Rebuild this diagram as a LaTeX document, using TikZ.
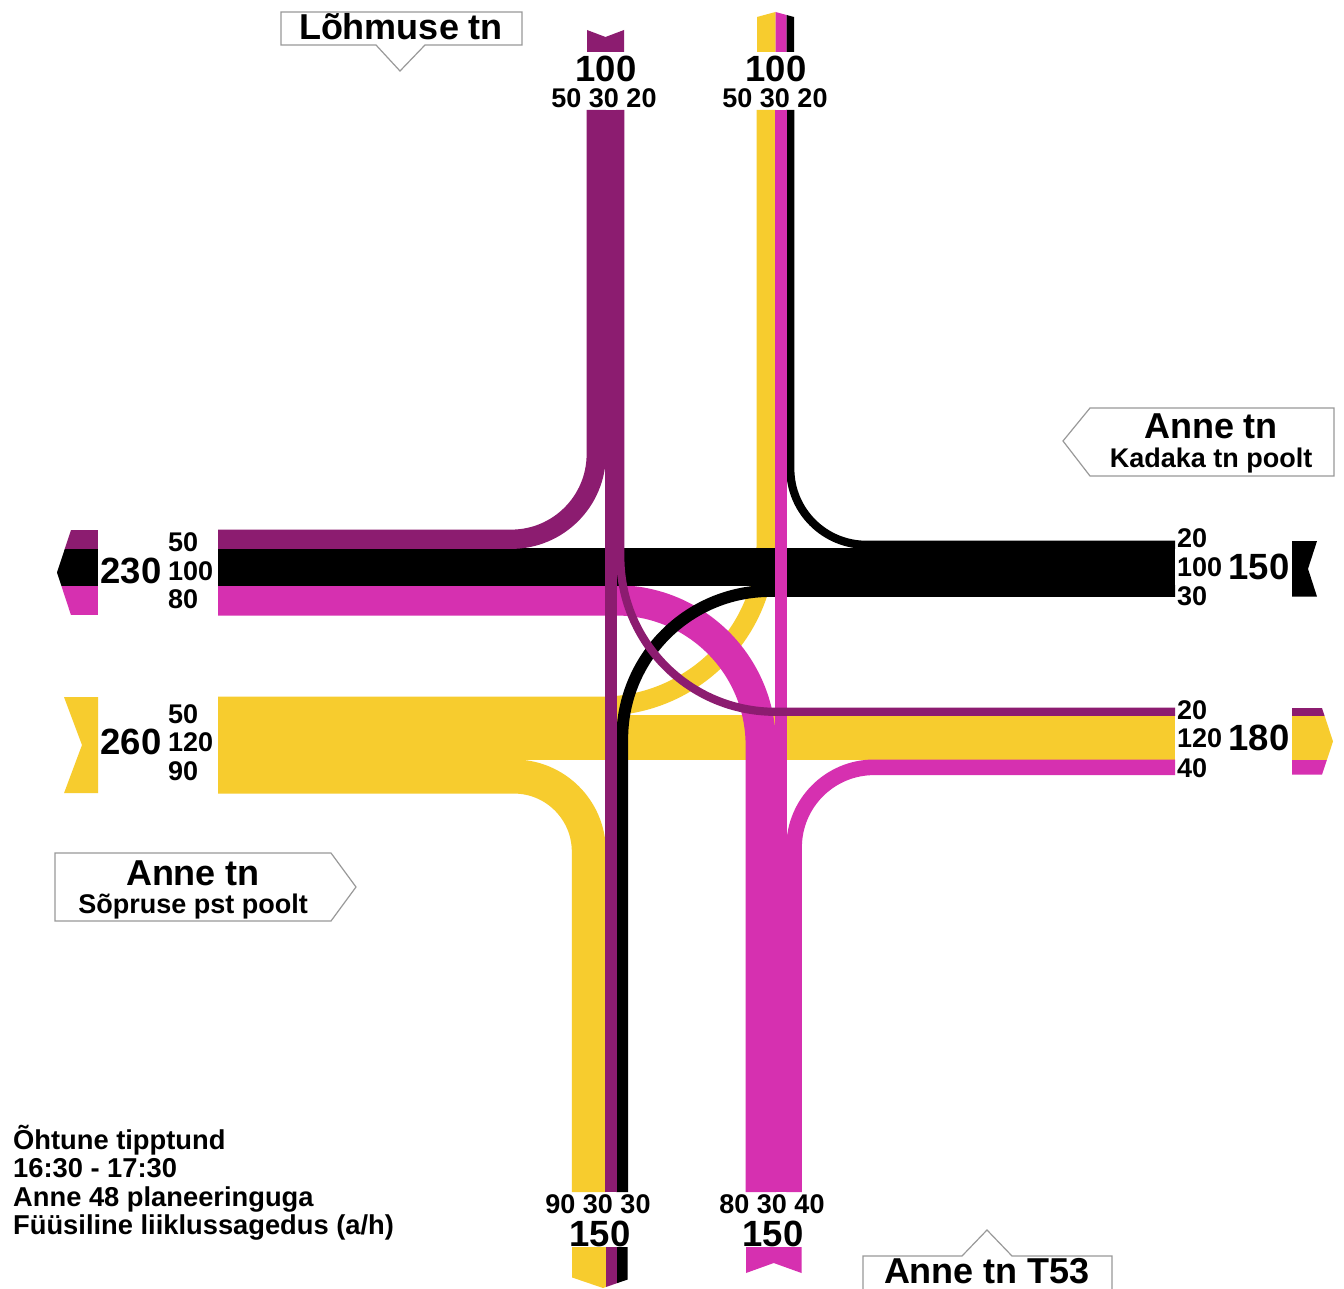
\documentclass[tikz,border=0pt]{standalone}
\usepackage{fontspec}
\setmainfont{Liberation Sans}
\definecolor{lilla}{RGB}{140,28,112}
\definecolor{roosa}{RGB}{214,48,176}
\definecolor{kollane}{RGB}{247,204,46}

\begin{document}
\begin{tikzpicture}[x=1pt, y=-1pt,
    flow/.style={line width=#1*0.37pt+0.8pt},
    big/.style={font=\fontsize{36.5}{36.5}\selectfont\bfseries, inner sep=0},
    small/.style={font=\fontsize{27}{27}\selectfont\bfseries, inner sep=0},
    title/.style={font=\fontsize{36}{36}\selectfont\bfseries, inner sep=0, anchor=base},
    sub/.style={font=\fontsize{27}{27}\selectfont\bfseries, inner sep=0, anchor=base},
    note/.style={font=\fontsize{27.3}{27.3}\selectfont\bfseries, inner sep=0, anchor=base west},
    callout/.style={fill=white, draw=gray!80, line width=1.2pt}]
    \fill[white] (0,0) rectangle (1344,1289);
    \useasboundingbox (0,0) rectangle (1344,1289);
    % Flows, turning movements first:
    \draw[kollane, flow=50, rounded corners=165] (218,706.25) -| (766.25,110);
    \draw[kollane, flow=90, rounded corners=75] (218,776.5) -| (588.85,1192);
    \draw[kollane, flow=120] (218,737.7) -- (1175,737.7);
    \draw[roosa, flow=80, rounded corners=145] (760.8,1192) |- (218,600.3);
    \draw[black, flow=30, rounded corners=148] (1175,591) -| (622.2,1192);
    \draw[black, flow=100] (1175,567) -- (218,567);
    \draw[black, flow=20, rounded corners=76] (1175,544.8) -| (790.3,110);
    \draw[lilla, flow=50, rounded corners=85] (596.25,110) |- (218,539.25);
    \draw[roosa, flow=30] (781.15,1192) -- (781.15,110);
    \draw[roosa, flow=40, rounded corners=80] (794.1,1192) |- (1175,767.3);
    \draw[lilla, flow=30] (611.05,110) -- (611.05,1192);
    \draw[lilla, flow=20, rounded corners=155] (620.3,110) |- (1175,711.8);
    % Arrow ends:
    \fill[lilla] (587,30) -- (605.5,37) -- (624,30) -- (624,52) -- (587,52) -- cycle;
    \fill[kollane] (757,52) -- (757,17) -- (775.5,12) -- (775.5,52) -- cycle;
    \fill[roosa] (775.5,52) -- (775.5,12) -- (786.6,15) -- (786.6,52) -- cycle;
    \fill[black] (786.6,52) -- (786.6,15) -- (794,17) -- (794,52) -- cycle;
    \begin{scope}
        \clip (98,530) -- (71,530) -- (57,572.5) -- (71,615.1) -- (98,615.1) -- cycle;
        \fill[lilla] (50,530) rectangle (98,548.5);
        \fill[black] (50,548.5) rectangle (98,585.5);
        \fill[roosa] (50,585.5) rectangle (98,615.1);
    \end{scope}
    \fill[kollane] (64,697) -- (98,697) -- (98,793.2) -- (64,793.2) -- (82,745) -- cycle;
    \fill[black] (1292,541.1) -- (1317,541.1) -- (1308,568.8) -- (1317,596.6) -- (1292,596.6) -- cycle;
    \begin{scope}
        \clip (1292,708.1) -- (1322,708.1) -- (1333,741.4) -- (1322,774.7) -- (1292,774.7) -- cycle;
        \fill[lilla] (1290,708.1) rectangle (1340,715.5);
        \fill[kollane] (1290,715.5) rectangle (1340,759.9);
        \fill[roosa] (1290,759.9) rectangle (1340,774.7);
    \end{scope}
    \begin{scope}
        \clip (572.2,1247) -- (627.7,1247) -- (627.7,1279.5) -- (603,1288) -- (572.2,1277.5) -- cycle;
        \fill[kollane] (570,1247) rectangle (605.5,1290);
        \fill[lilla] (605.5,1247) rectangle (616.6,1290);
        \fill[black] (616.6,1247) rectangle (630,1290);
    \end{scope}
    \fill[roosa] (746,1247) -- (801.5,1247) -- (801.5,1273) -- (773.75,1263) -- (746,1273) -- cycle;
    % Street labels:
    \draw[callout] (281,12) -- (522,12) -- (522,45) -- (425,45) -- (400,71) -- (376,45) -- (281,45) -- cycle;
    \draw[callout] (1090,408) -- (1334,408) -- (1334,476) -- (1090,476) -- (1063,441) -- cycle;
    \draw[callout] (55,853) -- (331,853) -- (356,887) -- (331,921) -- (55,921) -- cycle;
    \draw[callout] (863,1292) -- (863,1256) -- (962,1256) -- (987,1230) -- (1012,1256) -- (1112,1256) -- (1112,1292);
    \node[title] (lohmuse) at (401,40) {Lõhmuse tn};
    \node[title] (kadakaA) at (1211,438) {Anne tn};
    \node[sub] (kadakaB) at (1211,467) {Kadaka tn poolt};
    \node[title] (sopruseA) at (193,885) {Anne tn};
    \node[sub] (sopruseB) at (193,913) {Sõpruse pst poolt};
    \node[title] (tkolm) at (987,1283) {Anne tn T53};
    % Volumes:
    \node[big] (nIn) at (606,69) {100};
    \node[small] (nInS) at (604,98) {50 30 20};
    \node[big] (nOut) at (776,69) {100};
    \node[small] (nOutS) at (775,98) {50 30 20};
    \node[big] (wOut) at (131,571) {230};
    \node[small, anchor=west] (wOut1) at (168,542) {50};
    \node[small, anchor=west] (wOut2) at (168,571) {100};
    \node[small, anchor=west] (wOut3) at (168,599) {80};
    \node[big] (wIn) at (131,742) {260};
    \node[small, anchor=west] (wIn1) at (168,714) {50};
    \node[small, anchor=west] (wIn2) at (168,742) {120};
    \node[small, anchor=west] (wIn3) at (168,771) {90};
    \node[big] (eIn) at (1259,567) {150};
    \node[small, anchor=west] (eIn1) at (1177,538) {20};
    \node[small, anchor=west] (eIn2) at (1177,567) {100};
    \node[small, anchor=west] (eIn3) at (1177,596) {30};
    \node[big] (eOut) at (1259,738) {180};
    \node[small, anchor=west] (eOut1) at (1177,710) {20};
    \node[small, anchor=west] (eOut2) at (1177,738) {120};
    \node[small, anchor=west] (eOut3) at (1177,768) {40};
    \node[small] (sOutS) at (598,1204) {90 30 30};
    \node[big] (sOut) at (600,1234) {150};
    \node[small] (sInS) at (772,1204) {80 30 40};
    \node[big] (sIn) at (773,1234) {150};
    % Notes:
    \node[note] (note1) at (13,1149) {Õhtune tipptund};
    \node[note] (note2) at (13,1177) {16:30 - 17:30};
    \node[note] (note3) at (13,1206) {Anne 48 planeeringuga};
    \node[note] (note4) at (13,1234) {Füüsiline liiklussagedus (a/h)};
\end{tikzpicture}
\end{document}
